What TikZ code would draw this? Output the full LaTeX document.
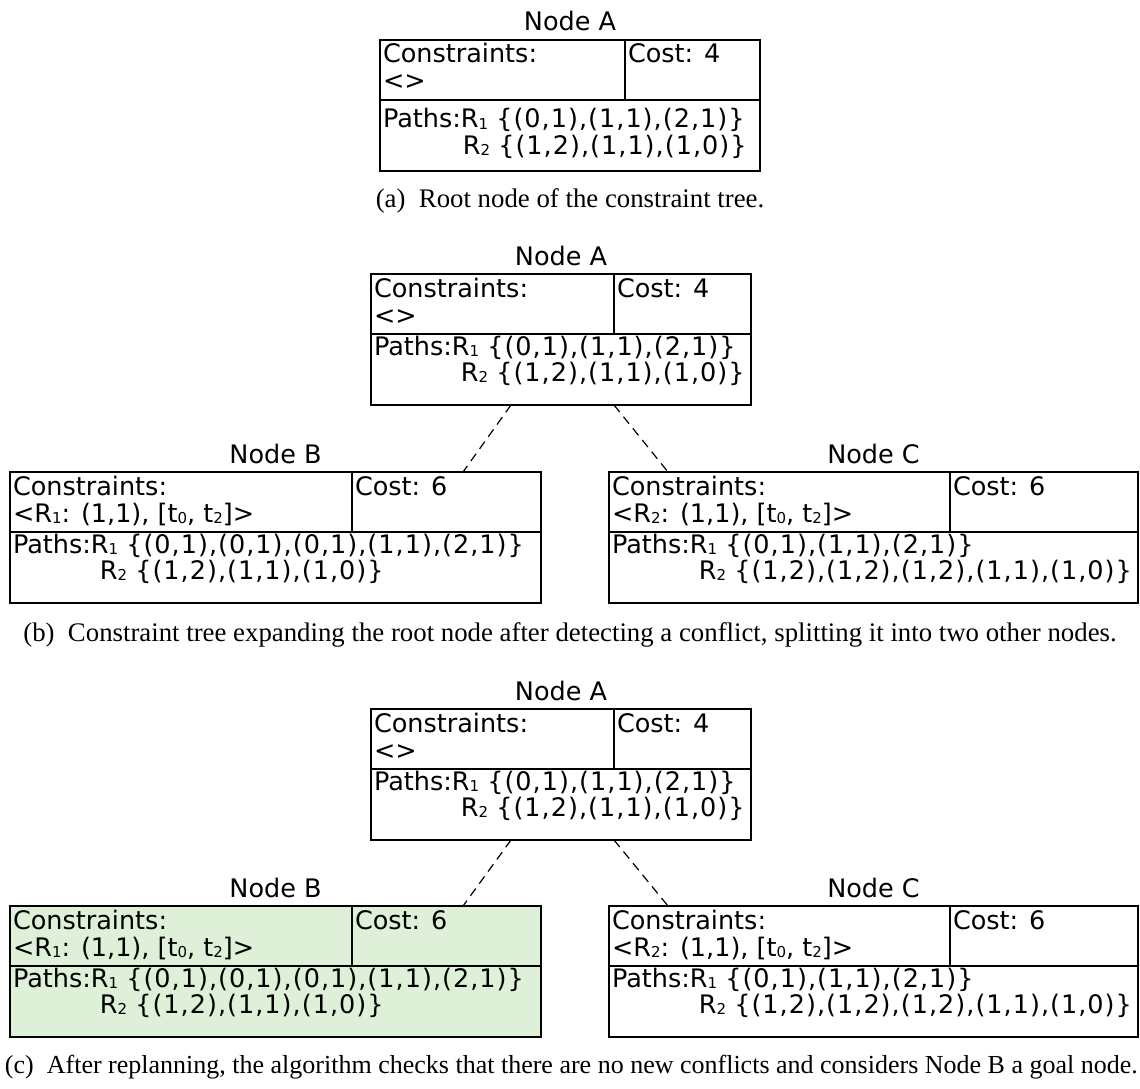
\documentclass[tikz,border=0pt]{standalone}
\usepackage{fontspec}
\setmainfont{DejaVu Sans}
\newfontfamily\capfont{Liberation Serif}
\usetikzlibrary{calc}
\definecolor{goalgreen}{RGB}{222,240,216}
\newcommand{\rsub}[1]{\raisebox{-1.5pt}{\fontsize{15}{15}\selectfont #1}}
\tikzset{
  cell/.style={draw, line width=2.4pt, inner sep=0pt, outer sep=0pt, anchor=north west},
  txt/.style={inner sep=0pt, outer sep=0pt, font=\fontsize{25.5}{30}\selectfont},
  captext/.style={inner sep=0pt, outer sep=0pt, font=\capfont\fontsize{26.8}{30}\selectfont},
  link/.style={line width=1.2pt, dash pattern=on 9pt off 6pt}
}
% one constraint-tree node: name, left, top, divider, right, title, constraint, cost
\newcommand{\ctbox}[8]{%
  \node[cell, minimum width=#4pt-#2pt, minimum height=60pt] (#1c) at (#2,#3) {};
  \node[cell, minimum width=#5pt-#4pt, minimum height=60pt] (#1k) at (#4,#3) {};
  \node[cell, minimum width=#5pt-#2pt, minimum height=71pt] (#1p) at (#2,#3+60) {};
  \node[txt, anchor=base] (#1t) at ($(#1c.north west)!0.5!(#1k.north east)+(0,-9)$) {#6};
  \node[txt, anchor=base west] (#1c1) at ($(#1c.north west)+(3,23)$) {Constraints:};
  \node[txt, anchor=base west] (#1c2) at ($(#1c.north west)+(3,50)$) {#7};
  \node[txt, anchor=base west] (#1k1) at ($(#1k.north west)+(3,23)$) {Cost: #8};
}
% paths cell: name, R1 path, R2 path, first baseline, R2 indent
\newcommand{\ctpaths}[5]{%
  \node[txt, anchor=base west] (#1ph) at ($(#1p.north west)+(3,#4)$) {Paths:};
  \node[txt, anchor=base west] (#1r1) at (#1ph.base east) {R\rsub{1} {\addfontfeature{LetterSpace=4}#2}};
  \node[txt, anchor=base west] (#1r2) at ($(#1r1.base west)+(#5,26)$) {R\rsub{2} {\addfontfeature{LetterSpace=4}#3}};
}

\begin{document}
\begin{tikzpicture}[x=1pt, y=-1pt]
  \useasboundingbox (0,0) rectangle (1140,1089);

  %%% (a) root node
  \ctbox{aA}{380}{40}{625}{760}{Node A}{<>}{4}
  \ctpaths{aA}{\{(0,1),(1,1),(2,1)\}}{\{(1,2),(1,1),(1,0)\}}{28}{2}
  \node[captext, anchor=base] (capa) at (570,207) {(a)\enspace Root node of the constraint tree.};

  %%% (b) expanded tree
  \ctbox{bA}{371}{274}{614}{751}{Node A}{<>}{4}
  \ctpaths{bA}{\{(0,1),(1,1),(2,1)\}}{\{(1,2),(1,1),(1,0)\}}{21}{9}
  \ctbox{bB}{10}{472}{352}{541}{Node B}{<R\rsub{1}: (1,1), [t\rsub{0}, t\rsub{2}]>}{6}
  \ctpaths{bB}{\{(0,1),(0,1),(0,1),(1,1),(2,1)\}}{\{(1,2),(1,1),(1,0)\}}{21}{9}
  \ctbox{bC}{609}{472}{950}{1138}{Node C}{<R\rsub{2}: (1,1), [t\rsub{0}, t\rsub{2}]>}{6}
  \ctpaths{bC}{\{(0,1),(1,1),(2,1)\}}{\{(1,2),(1,2),(1,2),(1,1),(1,0)\}}{21}{9}
  \draw[link] ([xshift=140pt]bAp.south west) -- ([xshift=-78pt]bBk.north east);
  \draw[link] ([xshift=243pt]bAp.south west) -- ([xshift=59pt]bCc.north west);
  \node[captext, anchor=base] (capb) at (570,641) {(b)\enspace Constraint tree expanding the root node after detecting a conflict, splitting it into two other nodes.};

  %%% (c) goal node found
  \ctbox{cA}{371}{709}{614}{751}{Node A}{<>}{4}
  \ctpaths{cA}{\{(0,1),(1,1),(2,1)\}}{\{(1,2),(1,1),(1,0)\}}{21}{9}
  \begin{scope}[cell/.append style={fill=goalgreen}]
    \ctbox{cB}{10}{906}{352}{541}{Node B}{<R\rsub{1}: (1,1), [t\rsub{0}, t\rsub{2}]>}{6}
  \end{scope}
  \ctpaths{cB}{\{(0,1),(0,1),(0,1),(1,1),(2,1)\}}{\{(1,2),(1,1),(1,0)\}}{21}{9}
  \ctbox{cC}{609}{906}{950}{1138}{Node C}{<R\rsub{2}: (1,1), [t\rsub{0}, t\rsub{2}]>}{6}
  \ctpaths{cC}{\{(0,1),(1,1),(2,1)\}}{\{(1,2),(1,2),(1,2),(1,1),(1,0)\}}{21}{9}
  \draw[link] ([xshift=140pt]cAp.south west) -- ([xshift=-78pt]cBk.north east);
  \draw[link] ([xshift=243pt]cAp.south west) -- ([xshift=59pt]cCc.north west);
  \node[captext, anchor=base west, font=\capfont\fontsize{26}{30}\selectfont] (capc) at (5,1073) {(c)\enspace After replanning, the algorithm checks that there are no new conflicts and considers Node B a goal node.};
\end{tikzpicture}
\end{document}
